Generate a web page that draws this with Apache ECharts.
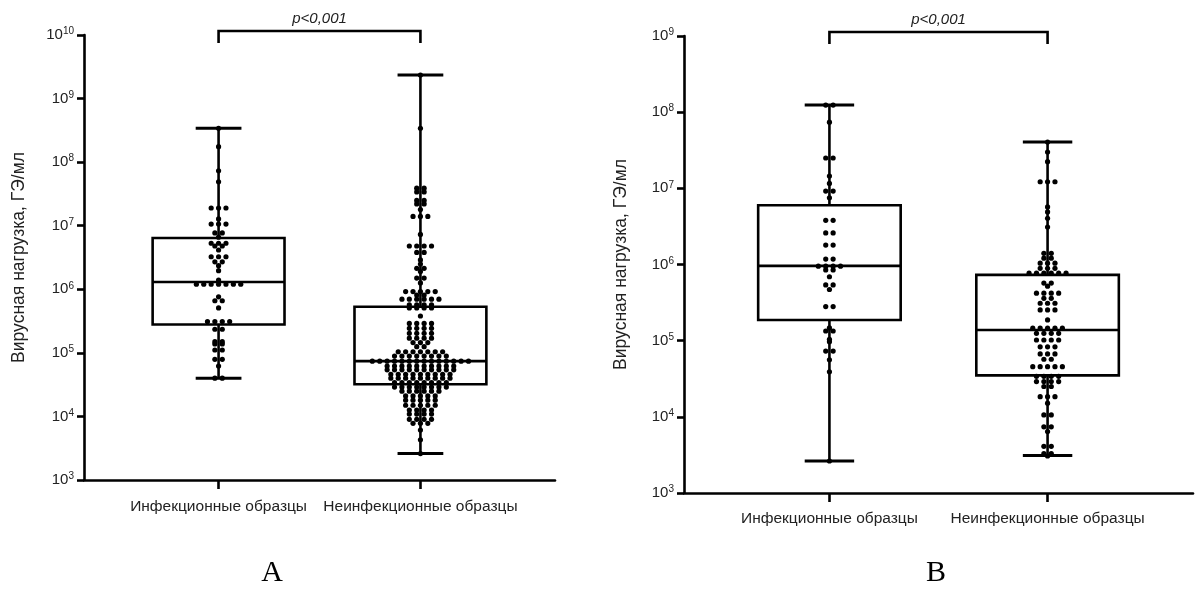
<!DOCTYPE html>
<html>
<head>
<meta charset="utf-8">
<script src="https://cdn.jsdelivr.net/npm/echarts@6/dist/echarts.min.js"></script>
<style>
html, body { margin: 0; padding: 0; background: #fff; }
#main { width: 1195px; height: 605px; }
</style>
</head>
<body>
<div id="main"></div>
<script>
var groups = ['Инфекционные образцы', 'Неинфекционные образцы'];
var yName = 'Вирусная нагрузка, ГЭ/мл';
var pText = 'p<0,001';
var panelLabels = ['A', 'B'];

// box stats: [min, q1, median, q3, max]
var boxA = [[4.0e4, 2.8e5, 1.3e6, 6.4e6, 3.4e8], [2.6e3, 3.2e4, 7.4e4, 5.3e5, 2.35e9]];
var boxB = [[2.63e3, 1.87e5, 9.6e5, 6.0e6, 1.24e8], [3.1e3, 3.5e4, 1.38e5, 7.3e5, 4.05e7]];

// dots, one row per [value, number of dots in that row]
var dotsA1 = [[3.4e8,1],[1.75e8,1],[7.3e7,1],[4.9e7,1],[1.9e7,3],[1.28e7,1],[1.06e7,3],[7.7e6,2],[6.6e6,1],
  [5.3e6,3],[4.8e6,2],[4.15e6,1],[3.25e6,3],[2.7e6,2],[2.35e6,1],[1.96e6,1],[1.4e6,1],[1.2e6,7],
  [7.6e5,1],[6.6e5,2],[5.1e5,1],[3.1e5,4],[2.35e5,2],[1.5e5,2],[1.38e5,2],[1.11e5,2],[7.9e4,2],[6.2e4,1],[4.0e4,2]];
var dotsA2 = [[2.35e9,1],[3.4e8,1],[3.9e7,2],[3.4e7,2],[2.5e7,2],[2.2e7,2],[1.8e7,1],[1.4e7,3],[7.3e6,1],
  [4.8e6,4],[3.8e6,2],[2.9e6,1],[2.5e6,1],[2.14e6,2],[1.9e6,1],[1.5e6,2],[1.26e6,1],[9.2e5,5],[8.1e5,2],
  [7.0e5,6],[5.7e5,4],[5.1e5,4],[3.8e5,1],[2.9e5,4],[2.43e5,4],[2.03e5,4],[1.7e5,4],[1.45e5,3],[1.25e5,2],
  [1.04e5,7],[8.9e4,8],[7.4e4,14],[6.2e4,10],[5.4e4,10],[4.6e4,9],[4.0e4,9],[3.4e4,8],[2.9e4,8],[2.5e4,6],
  [2.1e4,5],[1.8e4,5],[1.5e4,5],[1.26e4,4],[1.09e4,4],[9.0e3,4],[7.8e3,3],[6.1e3,1],[4.3e3,1],[2.6e3,1]];
var dotsB1 = [[1.24e8,2],[7.4e7,1],[2.5e7,2],[1.45e7,1],[1.16e7,1],[9.2e6,2],[7.5e6,1],[3.8e6,2],[2.6e6,2],
  [1.8e6,2],[1.18e6,2],[9.5e5,4],[8.5e5,2],[6.9e5,1],[5.4e5,2],[4.7e5,1],[2.8e5,2],[1.47e5,1],[1.34e5,2],
  [1.04e5,1],[9.7e4,1],[7.3e4,2],[5.6e4,1],[3.9e4,1],[2.63e3,1]];
var dotsB2 = [[4.05e7,1],[3.0e7,1],[2.24e7,1],[1.22e7,3],[5.7e6,1],[4.9e6,1],[4.05e6,1],[3.1e6,1],[1.4e6,2],
  [1.21e6,2],[1.04e6,3],[8.9e5,3],[7.7e5,6],[5.7e5,2],[5.2e5,1],[4.2e5,4],[3.6e5,2],[3.1e5,3],[2.53e5,3],
  [1.87e5,1],[1.46e5,5],[1.25e5,4],[1.02e5,4],[8.3e4,3],[6.7e4,3],[5.7e4,2],[4.55e4,5],[3.4e4,4],[2.9e4,4],
  [2.5e4,2],[1.84e4,3],[1.51e4,1],[1.06e4,2],[7.4e3,2],[6.4e3,1],[4.1e3,2],[3.3e3,2],[3.06e3,1]];

var FONT = 'Liberation Sans';
var TEXT = '#222';
var SLOTS = 8;            // category slots on each x axis
var CAT_SLOT = [2, 5];    // where the two groups sit
var DOT_STEP = 7.4;
var DOT_R = 2.6;

function slotData() {
  var d = [];
  for (var i = 0; i < SLOTS; i++) d.push('');
  d[CAT_SLOT[0]] = groups[0];
  d[CAT_SLOT[1]] = groups[1];
  return d;
}
function isCat(i) { return i === CAT_SLOT[0] || i === CAT_SLOT[1]; }

function dotData(rows, slot) {
  var out = [];
  rows.forEach(function (r) {
    for (var k = 0; k < r[1]; k++) out.push([slot, r[0], k, r[1]]);
  });
  return out;
}

function boxData(stats) {
  return stats.map(function (s, i) { return [CAT_SLOT[i]].concat(s); });
}

function renderDot(params, api) {
  var p = api.coord([api.value(0), api.value(1)]);
  var off = (api.value(2) - (api.value(3) - 1) / 2) * DOT_STEP;
  return { type: 'circle', shape: { cx: p[0] + off, cy: p[1], r: DOT_R }, style: { fill: '#000' } };
}

function renderBox(params, api) {
  var c = api.value(0);
  var unit = api.size([1, 0])[0];
  var hw = unit * 0.98, cw = unit * 0.34;
  var pMin = api.coord([c, api.value(1)]);
  var pQ1 = api.coord([c, api.value(2)]);
  var pMed = api.coord([c, api.value(3)]);
  var pQ3 = api.coord([c, api.value(4)]);
  var pMax = api.coord([c, api.value(5)]);
  var x = pMed[0];
  var ls = { stroke: '#000', lineWidth: 2.6, fill: null };
  return {
    type: 'group',
    children: [
      { type: 'line', shape: { x1: x, y1: pMax[1], x2: x, y2: pQ3[1] }, style: ls },
      { type: 'line', shape: { x1: x, y1: pQ1[1], x2: x, y2: pMin[1] }, style: ls },
      { type: 'line', shape: { x1: x - cw, y1: pMax[1], x2: x + cw, y2: pMax[1] }, style: { stroke: '#000', lineWidth: 3 } },
      { type: 'line', shape: { x1: x - cw, y1: pMin[1], x2: x + cw, y2: pMin[1] }, style: { stroke: '#000', lineWidth: 3 } },
      { type: 'rect', shape: { x: x - hw, y: pQ3[1], width: hw * 2, height: pQ1[1] - pQ3[1] }, style: ls },
      { type: 'line', shape: { x1: x - hw, y1: pMed[1], x2: x + hw, y2: pMed[1] }, style: ls }
    ]
  };
}

function renderBracket(params, api) {
  var a = api.coord([api.value(0), 1e5]);
  var b = api.coord([api.value(1), 1e5]);
  var top = params.coordSys.y;
  var yb = top - 4;
  return {
    type: 'group',
    children: [
      { type: 'polyline', shape: { points: [[a[0], top + 8], [a[0], yb], [b[0], yb], [b[0], top + 8]] },
        style: { stroke: '#000', lineWidth: 2.6, fill: null } },
      { type: 'text', x: (a[0] + b[0]) / 2, y: yb - 5,
        style: { text: pText, fill: TEXT, font: 'italic 15px ' + FONT, align: 'center', verticalAlign: 'bottom' } }
    ]
  };
}

function xAxisFor(gi, margin) {
  return {
    type: 'category', gridIndex: gi, boundaryGap: false, data: slotData(),
    axisLine: { lineStyle: { color: '#000', width: 2.6 } },
    axisTick: { interval: function (i) { return isCat(i); }, length: 9, lineStyle: { color: '#000', width: 2.6 } },
    axisLabel: { interval: function (i) { return isCat(i); }, margin: margin, color: TEXT, fontSize: 15.5, fontFamily: FONT },
    splitLine: { show: false }
  };
}

function yAxisFor(gi, maxV, gap) {
  return {
    type: 'log', logBase: 10, gridIndex: gi, min: 1e3, max: maxV,
    splitNumber: Math.round(Math.log10(maxV)) - 3,
    name: yName, nameLocation: 'middle', nameGap: gap,
    nameTextStyle: { color: TEXT, fontSize: 17.5, fontFamily: FONT },
    axisLine: { show: true, lineStyle: { color: '#000', width: 2.6 } },
    axisTick: { show: true, length: 7, lineStyle: { color: '#000', width: 2.6 } },
    minorTick: { show: false },
    splitLine: { show: false },
    axisLabel: {
      margin: 10, color: TEXT, fontFamily: FONT,
      formatter: function (v) { return '{b|10}{s|' + Math.round(Math.log10(v)) + '}'; },
      rich: {
        b: { fontSize: 15, color: TEXT, fontFamily: FONT },
        s: { fontSize: 10, color: TEXT, fontFamily: FONT, verticalAlign: 'top', padding: [0, 0, 7, 0] }
      }
    }
  };
}

var chart = echarts.init(document.getElementById('main'));
chart.setOption({
  animation: false,
  backgroundColor: '#fff',
  grid: [
    { left: 84, top: 35, width: 471, height: 445 },
    { left: 684, top: 36, width: 509, height: 457 }
  ],
  xAxis: [xAxisFor(0, 19), xAxisFor(1, 18)],
  yAxis: [yAxisFor(0, 1e10, 56), yAxisFor(1, 1e9, 54)],
  graphic: [
    { type: 'text', x: 272, y: 573, style: { text: panelLabels[0], font: '30px Liberation Serif', fill: '#000', align: 'center', verticalAlign: 'middle' } },
    { type: 'text', x: 936, y: 573, style: { text: panelLabels[1], font: '30px Liberation Serif', fill: '#000', align: 'center', verticalAlign: 'middle' } }
  ],
  series: [
    { type: 'custom', xAxisIndex: 0, yAxisIndex: 0, data: dotData(dotsA1, CAT_SLOT[0]).concat(dotData(dotsA2, CAT_SLOT[1])), renderItem: renderDot, clip: false },
    { type: 'custom', xAxisIndex: 0, yAxisIndex: 0, data: boxData(boxA), renderItem: renderBox, clip: false },
    { type: 'custom', xAxisIndex: 0, yAxisIndex: 0, data: [[CAT_SLOT[0], CAT_SLOT[1]]], renderItem: renderBracket, clip: false },
    { type: 'custom', xAxisIndex: 1, yAxisIndex: 1, data: dotData(dotsB1, CAT_SLOT[0]).concat(dotData(dotsB2, CAT_SLOT[1])), renderItem: renderDot, clip: false },
    { type: 'custom', xAxisIndex: 1, yAxisIndex: 1, data: boxData(boxB), renderItem: renderBox, clip: false },
    { type: 'custom', xAxisIndex: 1, yAxisIndex: 1, data: [[CAT_SLOT[0], CAT_SLOT[1]]], renderItem: renderBracket, clip: false }
  ]
});
</script>
</body>
</html>
